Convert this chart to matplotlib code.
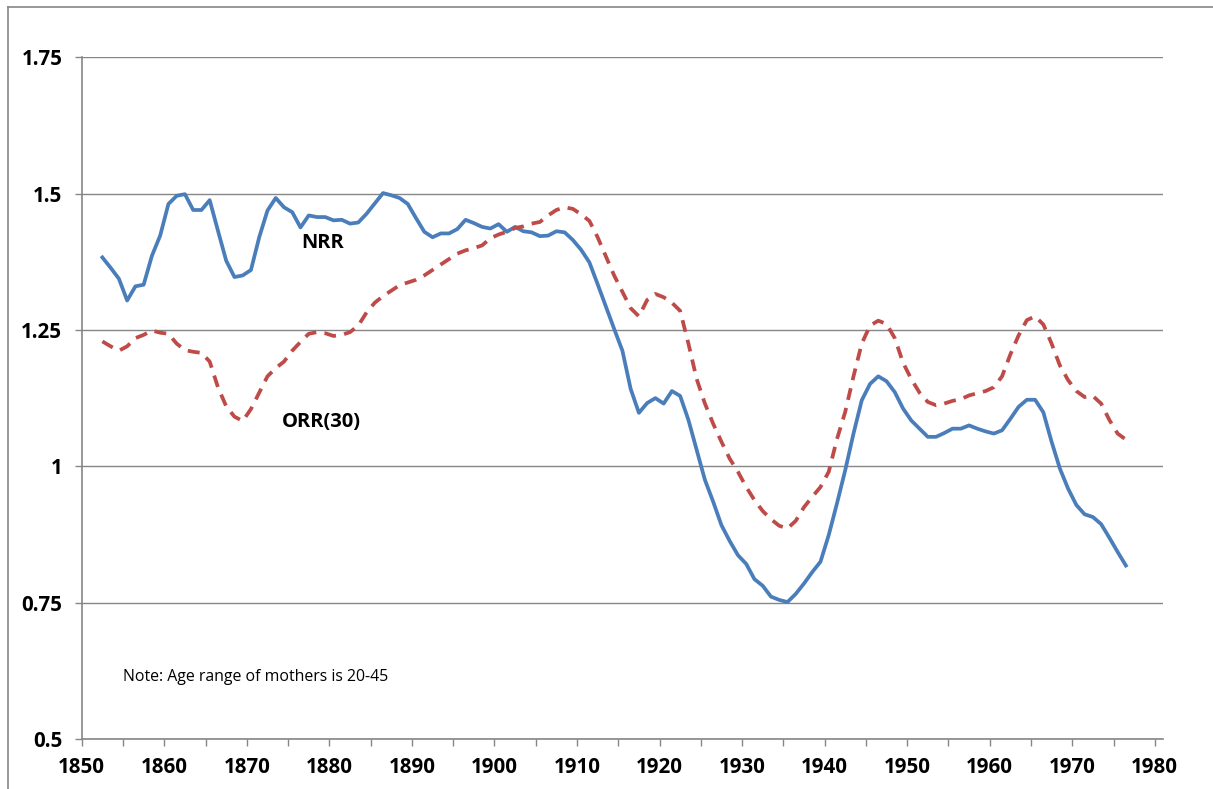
import matplotlib
matplotlib.use("Agg")
import matplotlib.pyplot as plt
from matplotlib.lines import Line2D
import numpy as np

plt.rcParams['font.family'] = ['Open Sans', 'DejaVu Sans']

# yearly values, plotted at mid-year
years = list(range(1852, 1977))

nrr = [1.383, 1.364, 1.344, 1.304, 1.330, 1.333, 1.386, 1.423, 1.481, 1.496,
       1.499, 1.470, 1.470, 1.488, 1.432, 1.377, 1.347, 1.350, 1.360, 1.420,
       1.469, 1.492, 1.475, 1.466, 1.438, 1.460, 1.457, 1.457, 1.451, 1.452,
       1.445, 1.447, 1.463, 1.482, 1.501, 1.497, 1.492, 1.481, 1.455, 1.430,
       1.420, 1.427, 1.427, 1.435, 1.452, 1.446, 1.439, 1.436, 1.444, 1.430,
       1.439, 1.431, 1.429, 1.422, 1.423, 1.431, 1.429, 1.415, 1.397, 1.374,
       1.334, 1.293, 1.252, 1.212, 1.142, 1.098, 1.116, 1.125, 1.115, 1.138,
       1.129, 1.085, 1.030, 0.975, 0.935, 0.892, 0.863, 0.837, 0.821, 0.793,
       0.781, 0.761, 0.755, 0.751, 0.766, 0.785, 0.806, 0.825, 0.874, 0.932,
       0.993, 1.060, 1.121, 1.151, 1.165, 1.156, 1.136, 1.106, 1.084, 1.069,
       1.054, 1.054, 1.061, 1.069, 1.069, 1.075, 1.069, 1.064, 1.060, 1.066,
       1.087, 1.109, 1.122, 1.122, 1.099, 1.045, 0.996, 0.959, 0.929, 0.912,
       0.907, 0.894, 0.869, 0.843, 0.818]

orr = [1.229, 1.220, 1.212, 1.220, 1.235, 1.241, 1.249, 1.245, 1.243, 1.225,
       1.213, 1.210, 1.208, 1.192, 1.145, 1.110, 1.091, 1.083, 1.105, 1.135,
       1.165, 1.180, 1.192, 1.212, 1.228, 1.243, 1.246, 1.244, 1.239, 1.241,
       1.246, 1.258, 1.282, 1.300, 1.312, 1.322, 1.332, 1.337, 1.342, 1.350,
       1.360, 1.370, 1.380, 1.390, 1.396, 1.400, 1.405, 1.418, 1.425, 1.430,
       1.437, 1.440, 1.445, 1.448, 1.460, 1.470, 1.475, 1.472, 1.462, 1.450,
       1.420, 1.385, 1.350, 1.320, 1.290, 1.275, 1.305, 1.316, 1.310, 1.300,
       1.285, 1.225, 1.160, 1.115, 1.078, 1.045, 1.014, 0.990, 0.962, 0.938,
       0.918, 0.903, 0.891, 0.886, 0.900, 0.925, 0.944, 0.962, 0.990, 1.050,
       1.100, 1.165, 1.225, 1.258, 1.267, 1.261, 1.235, 1.190, 1.160, 1.135,
       1.118, 1.112, 1.115, 1.120, 1.123, 1.130, 1.134, 1.138, 1.145, 1.165,
       1.205, 1.240, 1.268, 1.275, 1.260, 1.225, 1.185, 1.158, 1.138, 1.127,
       1.129, 1.115, 1.085, 1.060, 1.049]

x = np.array(years) + 0.5

grey = '#868686'

fig = plt.figure(figsize=(12.13, 7.89), dpi=100)
ax = fig.add_axes([0.0674, 0.0634, 0.8914, 0.864])

ax.plot(x, nrr, color='#4A7EBB', lw=2.7, solid_joinstyle='round')
ax.plot(x, orr, color='#BE4B48', lw=2.7, dashes=(3.2, 2.2))

ax.set_xlim(1850, 1981)
ax.set_ylim(0.5, 1.75)
ax.set_xticks(range(1850, 1981, 10))
ax.set_xticks(range(1855, 1980, 10), minor=True)
ax.set_yticks([0.5, 0.75, 1.0, 1.25, 1.5, 1.75])
ax.set_yticklabels(['0.5', '0.75', '1', '1.25', '1.5', '1.75'])

ax.grid(axis='y', color=grey, lw=1)
ax.set_axisbelow(True)
for s in ['top', 'right']:
    ax.spines[s].set_visible(False)
for s in ['left', 'bottom']:
    ax.spines[s].set_color(grey)
    ax.spines[s].set_linewidth(1.2)

ax.tick_params(axis='both', which='both', color=grey, width=1, length=5,
               labelsize=14.8)
ax.tick_params(axis='y', pad=9)
ax.tick_params(axis='x', pad=8)
for lab in ax.get_xticklabels() + ax.get_yticklabels():
    lab.set_fontweight('bold')

ax.text(1879.2, 1.410, 'NRR', fontsize=14.5, fontweight='bold',
        ha='center', va='center')
ax.text(1879.0, 1.081, 'ORR(30)', fontsize=14.5, fontweight='bold',
        ha='center', va='center')
ax.text(1855.0, 0.614, 'Note: Age range of mothers is 20-45', fontsize=11.4,
        ha='left', va='center')

# chart area border (only top and left edges are in frame)
fig.add_artist(Line2D([8 / 1213, 8 / 1213], [0, 1 - 7 / 789], color=grey, lw=1.2))
fig.add_artist(Line2D([8 / 1213, 1], [1 - 7 / 789, 1 - 7 / 789], color=grey, lw=1.2))

fig.savefig('out.png', dpi=100)
